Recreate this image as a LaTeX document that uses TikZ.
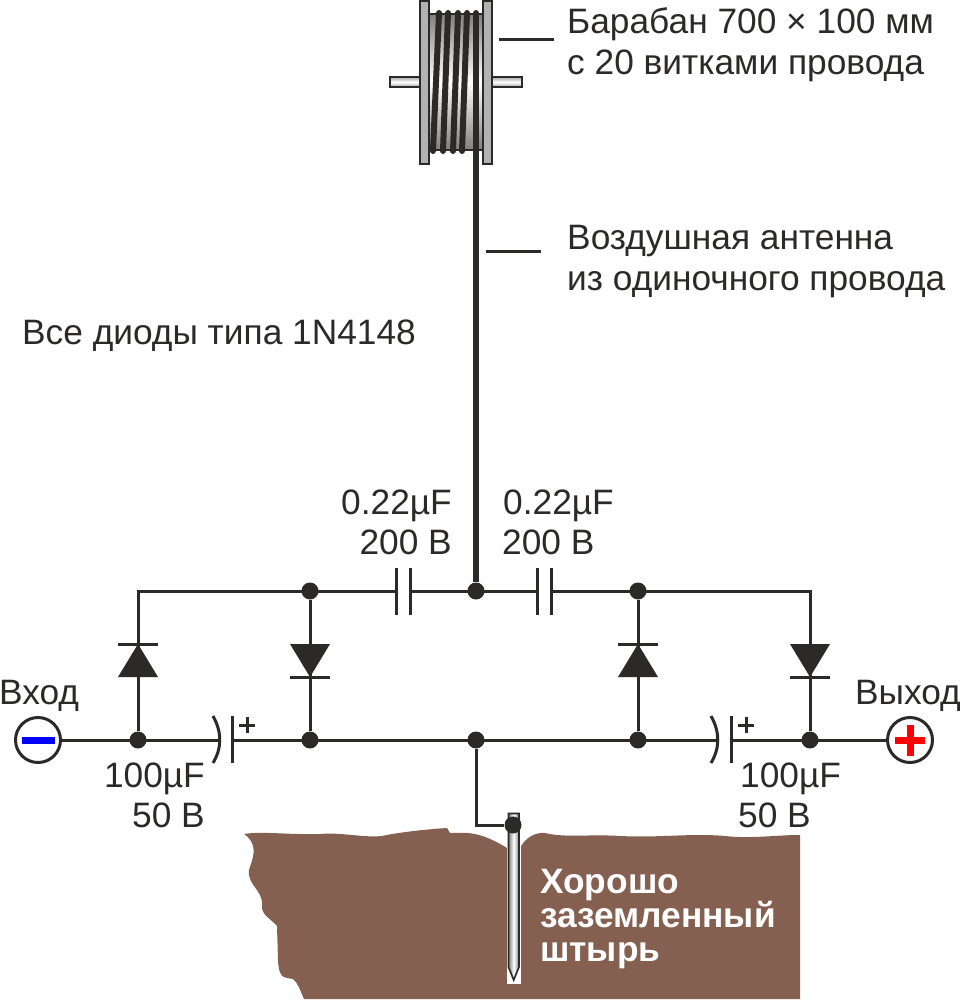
\documentclass[tikz,border=0pt]{standalone}
\usepackage{fontspec}
\setmainfont{Liberation Sans}
\definecolor{ink}{HTML}{2B2A29}
\definecolor{soil}{HTML}{856050}
\definecolor{flange}{HTML}{B2B2B2}
\tikzset{
  wire/.style={draw=ink, line width=3pt},
  coilwire/.style={draw=ink, line width=6pt, line cap=round},
  plate/.style={draw=ink, line width=3pt},
  outline/.style={draw=ink, line width=1.6pt},
  junction/.style={circle, fill=ink, inner sep=0pt, minimum size=17pt},
  terminal/.style={circle, draw=ink, fill=white, line width=3pt, inner sep=0pt, minimum size=45pt},
  caption/.style={text=ink, inner sep=0pt, anchor=base west, font=\fontsize{35.300}{38}\selectfont},
  rcaption/.style={caption, anchor=base east},
  groundtext/.style={text=white, inner sep=0pt, anchor=base west, font=\fontsize{35.300}{38}\selectfont\bfseries}
}
\begin{document}
\begin{tikzpicture}[x=1pt, y=-1pt]
                \useasboundingbox (0, 0) rectangle (961, 1000);
                % Soil
                \fill [soil] (244, 834) .. controls (262, 831) and (290, 835) .. (320, 834)
                  .. controls (340, 832) and (365, 838) .. (382, 836)
                  .. controls (400, 832) and (430, 829) .. (447, 828)
                  -- (450, 833) .. controls (465, 833) and (478, 830) .. (507, 848)
                  -- (507, 984) -- (520, 984) -- (520, 848)
                  .. controls (525, 838) and (535, 832) .. (545, 833)
                  .. controls (565, 838) and (590, 834) .. (620, 836)
                  .. controls (660, 838) and (690, 833) .. (725, 836)
                  .. controls (750, 839) and (775, 835) .. (800, 835)
                  -- (800, 999) -- (304, 999)
                  .. controls (300, 990) and (298, 983) .. (293, 979)
                  .. controls (287, 977) and (279, 982) .. (278, 960)
                  -- (277, 926)
                  .. controls (270, 918) and (261, 915) .. (262, 905)
                  .. controls (263, 890) and (247, 885) .. (249, 870)
                  .. controls (252, 860) and (260, 845) .. (244, 834) -- cycle;
                % Spike
                \fill [white] (507, 812) rectangle (521, 984);
                \shade [left color=gray, right color=gray, middle color=white] (508.500, 813.500) -- (519, 813.500) -- (519, 967) -- (513.700, 980) -- (508.500, 967) -- cycle;
                \draw [outline] (508.500, 813.500) -- (519, 813.500) -- (519, 967) -- (513.700, 980) -- (508.500, 967) -- cycle;
                % Drum
                \shade [top color=gray!70, bottom color=gray!70, middle color=white] (390, 77) rectangle (420, 87);
                \shade [top color=gray!70, bottom color=gray!70, middle color=white] (492, 77) rectangle (522, 87);
                \draw [outline] (420, 77) -- (390, 77) -- (390, 87) -- (420, 87);
                \draw [outline] (492, 77) -- (522, 77) -- (522, 87) -- (492, 87);
                \shade [top color=gray, bottom color=gray, middle color=white] (429, 14) rectangle (483, 150);
                \draw [outline] (429, 14) -- (483, 14);
                \draw [outline] (429, 150) -- (483, 150);
                \filldraw [outline, fill=flange] (420, 1) rectangle (429, 164);
                \filldraw [outline, fill=flange] (483, 1) rectangle (492, 164);
                \draw [coilwire] (439, 13) -- (433, 151);
                \draw [coilwire] (448, 13) -- (443, 151);
                \draw [coilwire] (458, 13) -- (453, 151);
                \draw [coilwire] (467, 13) -- (462, 151);
                % Junctions
                \node [junction] (topA) at (310, 591) {};
                \node [junction] (topB) at (476, 591) {};
                \node [junction] (topC) at (638, 591) {};
                \node [junction] (botA) at (138, 740) {};
                \node [junction] (botB) at (310, 740) {};
                \node [junction] (botC) at (476, 740) {};
                \node [junction] (botD) at (638, 740) {};
                \node [junction] (botE) at (810, 740) {};
                \node [terminal] (input) at (38, 740) {};
                \node [terminal] (output) at (910, 740) {};
                \coordinate (coilEnd) at (476, 13);
                \coordinate (cornerA) at (138, 591);
                \coordinate (cornerE) at (810, 591);
                \coordinate (groundCorner) at (476, 825);
                % Antenna
                \draw [coilwire, line cap=butt] (coilEnd) -- (topB);
                \fill [ink] (476, 13) circle (3pt);
                % Top row
                \coordinate (capAl) at (396, 591);
                \coordinate (capAr) at (412, 591);
                \coordinate (capBl) at (537, 591);
                \coordinate (capBr) at (553, 591);
                \draw [wire] (botA) -- (cornerA) -- (capAl);
                \draw [wire] (capAr) -- (capBl);
                \draw [wire] (capBr) -- (cornerE) -- (botE);
                \draw [wire] (topA) -- (botB);
                \draw [wire] (topC) -- (botD);
                \draw [plate] (396, 568) -- (396, 615);
                \draw [plate] (410, 568) -- (410, 615);
                \draw [plate] (537, 568) -- (537, 615);
                \draw [plate] (551, 568) -- (551, 615);
                % Bottom row
                \coordinate (capCl) at (219, 740);
                \coordinate (capCr) at (232, 740);
                \coordinate (capDl) at (717, 740);
                \coordinate (capDr) at (731, 740);
                \draw [wire] (input) -- (capCl);
                \draw [wire] (capCr) -- (capDl);
                \draw [wire] (capDr) -- (output);
                \draw [plate] (213, 716) .. controls (222, 732) and (222, 748) .. (213, 763);
                \draw [plate] (232, 716) -- (232, 763);
                \draw [plate] (711, 716) .. controls (720, 732) and (720, 748) .. (711, 763);
                \draw [plate] (731, 716) -- (731, 763);
                \draw [plate] (239, 725) -- (255, 725);
                \draw [plate] (247, 717) -- (247, 733);
                \draw [plate] (738, 725) -- (754, 725);
                \draw [plate] (746, 717) -- (746, 733);
                % Diodes
                \fill [ink] (138, 644) -- (118, 677) -- (158, 677) -- cycle;
                \draw [plate] (118, 644) -- (158, 644);
                \fill [ink] (310, 677) -- (290, 644) -- (330, 644) -- cycle;
                \draw [plate] (290, 677) -- (330, 677);
                \fill [ink] (638, 644) -- (618, 677) -- (658, 677) -- cycle;
                \draw [plate] (618, 644) -- (658, 644);
                \fill [ink] (810, 677) -- (790, 644) -- (830, 644) -- cycle;
                \draw [plate] (790, 677) -- (830, 677);
                % Terminals
                \fill [blue] (22, 737) rectangle (55, 744);
                \fill [red] (895, 736.500) rectangle (925, 743.500);
                \fill [red] (906.500, 725) rectangle (913.500, 756);
                % Ground
                \node [junction] (spikeTop) at (513, 825) {};
                \draw [wire] (botC) -- (groundCorner) -- (spikeTop);
                % Leaders
                \coordinate (leadAa) at (499, 40);
                \coordinate (leadAb) at (554, 40);
                \coordinate (leadBa) at (486, 251);
                \coordinate (leadBb) at (541, 251);
                \draw [wire] (leadAa) -- (leadAb);
                \draw [wire] (leadBa) -- (leadBb);
                % Labels
                \node [caption] (drumA) at (567, 34) {Барабан 700 × 100 мм};
                \node [caption] (drumB) at (567, 75) {с 20 витками провода};
                \node [caption] (aerialA) at (567, 250) {Воздушная антенна};
                \node [caption] (aerialB) at (567, 290) {из одиночного провода};
                \node [caption] (note) at (22, 344) {Все диоды типа 1N4148};
                \node [rcaption] (capAa) at (452, 514) {0.22µF};
                \node [rcaption] (capAb) at (452, 554) {200 В};
                \node [caption] (capBa) at (503, 514) {0.22µF};
                \node [caption] (capBb) at (502, 554) {200 В};
                \node [caption] (inLabel) at (-1, 704) {Вход};
                \node [rcaption] (outLabel) at (961, 704) {Выход};
                \node [rcaption] (capCa) at (205, 787) {100µF};
                \node [rcaption] (capCb) at (205, 827) {50 В};
                \node [caption] (capDa) at (740, 787) {100µF};
                \node [caption] (capDb) at (738, 827) {50 В};
                \node [groundtext] (groundA) at (540, 893) {Хорошо};
                \node [groundtext] (groundB) at (540, 927) {заземленный};
                \node [groundtext] (groundC) at (540, 961) {штырь};
            \end{tikzpicture}
\end{document}
